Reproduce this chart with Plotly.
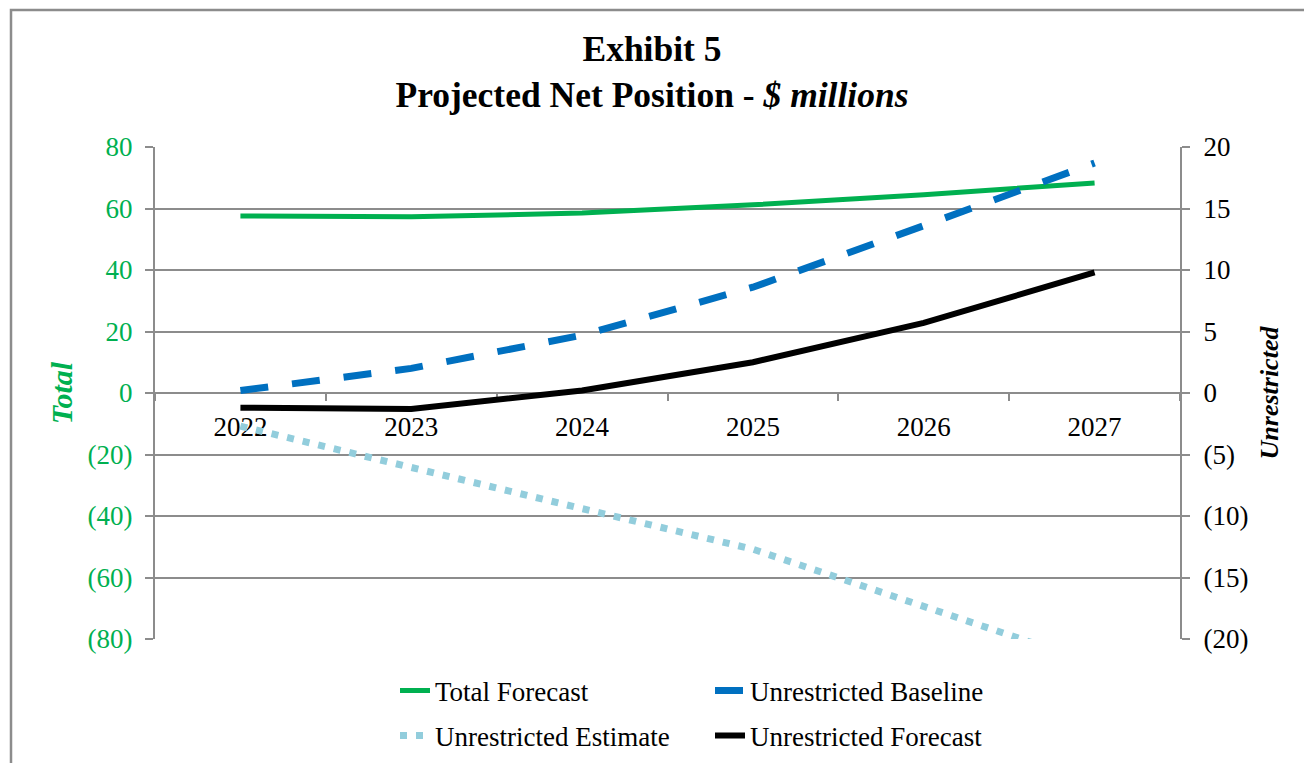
import plotly.graph_objects as go

years = ["2022", "2023", "2024", "2025", "2026", "2027"]
total_forecast = [57.6, 57.3, 58.5, 61.2, 64.5, 68.3]
unrestricted_baseline = [0.2, 2.0, 4.7, 8.6, 13.6, 18.7]
unrestricted_estimate = [-2.7, -6.1, -9.4, -12.7, -17.4, -22.0]
unrestricted_forecast = [-1.2, -1.3, 0.2, 2.5, 5.7, 9.8]

left_ticks = [-80, -60, -40, -20, 0, 20, 40, 60, 80]
left_labels = ["(80)", "(60)", "(40)", "(20)", "0", "20", "40", "60", "80"]
right_ticks = [-20, -15, -10, -5, 0, 5, 10, 15, 20]
right_labels = ["(20)", "(15)", "(10)", "(5)", "0", "5", "10", "15", "20"]

FONT = "Liberation Serif"
GRID = "#8C8C8C"
GREEN = "#00B050"

fig = go.Figure()
fig.add_trace(go.Scatter(x=years, y=total_forecast, name="Total Forecast", mode="lines",
                         line=dict(color=GREEN, width=5), yaxis="y", legend="legend"))
fig.add_trace(go.Scatter(x=years, y=unrestricted_baseline, name="Unrestricted Baseline", mode="lines",
                         line=dict(color="#0070C0", width=7, dash="28px,24px"), yaxis="y2", legend="legend2"))
fig.add_trace(go.Scatter(x=years, y=unrestricted_estimate, name="Unrestricted Estimate", mode="lines",
                         line=dict(color="#92CDDC", width=7, dash="7px,9px"), yaxis="y2", legend="legend3"))
fig.add_trace(go.Scatter(x=years, y=unrestricted_forecast, name="Unrestricted Forecast", mode="lines",
                         line=dict(color="black", width=6), yaxis="y2", legend="legend4"))

W, H = 1304, 763
L, R, T, B = 155, 124, 147, 124
pw, ph = W - L - R, H - T - B

def px(x):
    return (x - L) / pw

def py(y):
    return (H - B - y) / ph

legend_common = dict(orientation="h",
                     font=dict(family=FONT, size=27, color="black"),
                     bgcolor="rgba(0,0,0,0)", borderwidth=0,
                     xanchor="left", yanchor="middle", itemclick=False, itemdoubleclick=False)

fig.update_layout(
    width=W, height=H,
    margin=dict(l=L, r=R, t=T, b=B, autoexpand=False),
    paper_bgcolor="white", plot_bgcolor="white",
    font=dict(family=FONT, color="black"),
    title=dict(text="<b>Exhibit 5<br>Projected Net Position - <i>$ millions</i></b>",
               x=0.5, xanchor="center", y=1 - 61 / H, yanchor="middle",
               font=dict(family=FONT, size=35.5, color="black")),
    xaxis=dict(type="category", range=[-0.5, 5.5], anchor="free", position=0.5, showline=True,
               linecolor=GRID, linewidth=2,
               ticks="outside", tickson="boundaries", ticklen=7, tickcolor=GRID, tickwidth=2,
               ticklabelstandoff=10, showgrid=False, zeroline=False, layer="below traces",
               tickfont=dict(family=FONT, size=27, color="black")),
    yaxis=dict(range=[-80, 80], tickvals=left_ticks, ticktext=left_labels,
               showgrid=True, gridcolor=GRID, gridwidth=2, zeroline=False,
               showline=True, linecolor=GRID, linewidth=2, ticks="outside", ticklen=8,
               tickcolor=GRID, tickwidth=2, ticklabelstandoff=7,
               tickfont=dict(family=FONT, size=27, color=GREEN),
               title=dict(text="<b><i>Total</i></b>", standoff=6,
                          font=dict(family=FONT, size=30, color=GREEN))),
    yaxis2=dict(range=[-20, 20], tickvals=right_ticks, ticktext=right_labels, overlaying="y", side="right",
                showgrid=False, zeroline=False, showline=True, linecolor=GRID, linewidth=2,
                ticks="outside", ticklen=8, tickcolor=GRID, tickwidth=2, ticklabelstandoff=8,
                tickfont=dict(family=FONT, size=27, color="black"),
                title=dict(text="<b><i>Unrestricted</i></b>", standoff=12,
                           font=dict(family=FONT, size=26, color="black"))),
    legend=dict(x=px(395), y=py(691), **legend_common),
    legend2=dict(x=px(710), y=py(691), **legend_common),
    legend3=dict(x=px(395), y=py(736), **legend_common),
    legend4=dict(x=px(710), y=py(736), **legend_common),
    shapes=[dict(type="rect", xref="paper", yref="paper", x0=px(11), x1=px(1320), y0=py(790), y1=py(10),
                 line=dict(color=GRID, width=2.5), fillcolor="rgba(0,0,0,0)", layer="below")],
    showlegend=True,
)

fig.write_html("out.html")
